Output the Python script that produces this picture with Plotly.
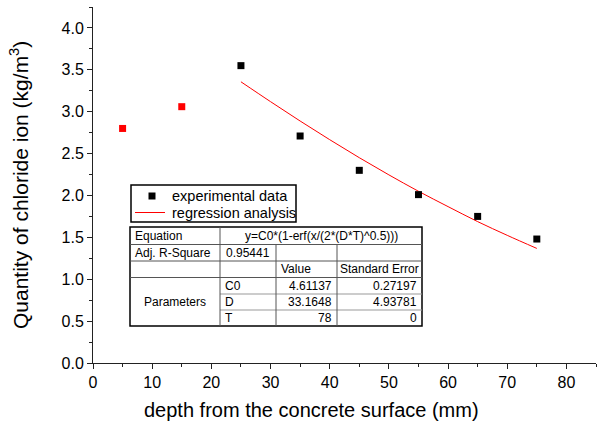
import plotly.graph_objects as go

# ---- data ----
exp_x = [25, 35, 45, 55, 65, 75]
exp_y = [3.55, 2.71, 2.30, 2.01, 1.75, 1.48]
excl_x = [5, 15]
excl_y = [2.80, 3.06]
fit_x = [25, 30, 35, 40, 45, 50, 55, 60, 65, 70, 75]
fit_y = [3.357, 3.120, 2.889, 2.666, 2.451, 2.246, 2.050, 1.867, 1.688, 1.524, 1.368]

legend_labels = ["experimental data", "regression analysis"]
equation = "y=C0*(1-erf(x/(2*(D*T)^0.5)))"
adj_r2 = "0.95441"
param_names = ["C0", "D", "T"]
param_values = ["4.61137", "33.1648", "78"]
param_errors = ["0.27197", "4.93781", "0"]

W, H = 597, 426
L, R, T, B = 93, 1, 7, 63
PW, PH = W - L - R, H - T - B

def px(x):
    return (x - L) / PW

def py(y):
    return 1 - (y - T) / PH

FONT = "Arial, Liberation Sans, sans-serif"

fig = go.Figure()
fig.add_trace(go.Scatter(x=fit_x, y=fit_y, mode="lines", line=dict(color="#ff0000", width=1, shape="spline"),
                         name=legend_labels[1], showlegend=False, hoverinfo="skip"))
fig.add_trace(go.Scatter(x=exp_x, y=exp_y, mode="markers", marker=dict(symbol="square", size=7, color="#000000"),
                         name=legend_labels[0], showlegend=False))
fig.add_trace(go.Scatter(x=excl_x, y=excl_y, mode="markers", marker=dict(symbol="square", size=7, color="#ff0000"),
                         name="excluded", showlegend=False))

shapes = []
annos = []

def rect(x0, y0, x1, y1, color="#000", width=1):
    shapes.append(dict(type="rect", xref="paper", yref="paper", x0=px(x0), x1=px(x1), y0=py(y0), y1=py(y1),
                       line=dict(color=color, width=width), fillcolor="rgba(0,0,0,0)", layer="above"))

def line(x0, y0, x1, y1, color="#555", width=1):
    shapes.append(dict(type="line", xref="paper", yref="paper", x0=px(x0), x1=px(x1), y0=py(y0), y1=py(y1),
                       line=dict(color=color, width=width), layer="above"))

def text(x, y, s, anchor="left", size=12):
    annos.append(dict(xref="paper", yref="paper", x=px(x), y=py(y), text=s, showarrow=False,
                      xanchor=anchor, yanchor="middle", font=dict(family=FONT, size=size, color="#000")))

# legend box
rect(131, 185, 296, 222, width=1.5)
shapes.append(dict(type="rect", xref="paper", yref="paper", x0=px(148.5), x1=px(155.5), y0=py(192.5), y1=py(199.5),
                   fillcolor="#000", line=dict(width=0), layer="above"))
line(135, 212.5, 165, 212.5, color="#ff0000", width=1)
text(170, 196, legend_labels[0], size=14.5)
text(170, 212.5, legend_labels[1], size=14.5)

# parameter table
cols = [130, 220, 276, 337, 422]
rows = [227, 244.5, 261, 277.5, 294, 310, 326]
shapes.append(dict(type="rect", xref="paper", yref="paper", x0=px(cols[0]), x1=px(cols[-1]), y0=py(rows[-1]), y1=py(rows[0]),
                   fillcolor="#ffffff", line=dict(color="#000", width=1.5), layer="above"))
line(cols[0], rows[1], cols[-1], rows[1])
line(cols[0], rows[2], cols[-1], rows[2])
line(cols[0], rows[3], cols[-1], rows[3])
line(cols[1], rows[4], cols[-1], rows[4], color="#999")
line(cols[1], rows[5], cols[-1], rows[5], color="#999")
line(cols[1], rows[0], cols[1], rows[-1])
line(cols[2], rows[1], cols[2], rows[-1])
line(cols[3], rows[1], cols[3], rows[-1])

def mid(i):
    return (rows[i] + rows[i + 1]) / 2

text(cols[0] + 3, mid(0), "Equation")
text((cols[1] + cols[-1]) / 2, mid(0), equation, anchor="center")
text(cols[0] + 3, mid(1), "Adj. R-Square")
text((cols[1] + cols[2]) / 2, mid(1), adj_r2, anchor="center")
text(cols[2] + 3, mid(2), "Value")
text((cols[3] + cols[4]) / 2, mid(2), "Standard Error", anchor="center", size=12)
text((cols[0] + cols[1]) / 2, (rows[3] + rows[6]) / 2, "Parameters", anchor="center")
for i, (n, v, e) in enumerate(zip(param_names, param_values, param_errors)):
    text(cols[1] + 3, mid(3 + i), n)
    text(cols[3] - 3, mid(3 + i), v, anchor="right")
    text(cols[4] - 3, mid(3 + i), e, anchor="right")

# axis titles
annos.append(dict(xref="paper", yref="paper", x=px(311.5), y=py(410), text="depth from the concrete surface (mm)",
                  showarrow=False, xanchor="center", yanchor="middle", font=dict(family=FONT, size=20, color="#000")))
annos.append(dict(xref="paper", yref="paper", x=px(19), y=py(185), text="Quantity of chloride ion (kg/m<sup>3</sup>)",
                  showarrow=False, xanchor="center", yanchor="middle", textangle=-90,
                  font=dict(family=FONT, size=21, color="#000")))

axis_common = dict(showgrid=False, zeroline=False, showline=True, linecolor="#222", linewidth=1,
                   ticks="outside", ticklen=5, tickwidth=1, tickcolor="#222",
                   tickfont=dict(family=FONT, size=16, color="#000"))

fig.update_layout(
    width=W, height=H,
    margin=dict(l=L, r=R, t=T, b=B),
    paper_bgcolor="#ffffff", plot_bgcolor="#ffffff",
    showlegend=False,
    shapes=shapes, annotations=annos,
    xaxis=dict(range=[0, 85], tickmode="array", tickvals=[0, 10, 20, 30, 40, 50, 60, 70, 80],
               ticktext=["0", "10", "20", "30", "40", "50", "60", "70", "80"],
               minor=dict(tickmode="linear", tick0=0, dtick=5, ticks="outside", ticklen=3, tickcolor="#222"),
               **axis_common),
    yaxis=dict(range=[0, 4.25], tickmode="linear", tick0=0, dtick=0.5, tickformat=".1f",
               minor=dict(tickmode="linear", tick0=0, dtick=0.25, ticks="outside", ticklen=3, tickcolor="#222"),
               **axis_common),
)

fig.write_html("out.html", config={"displayModeBar": False},
               post_script="document.body.style.margin='0px';document.body.style.overflow='hidden';")
